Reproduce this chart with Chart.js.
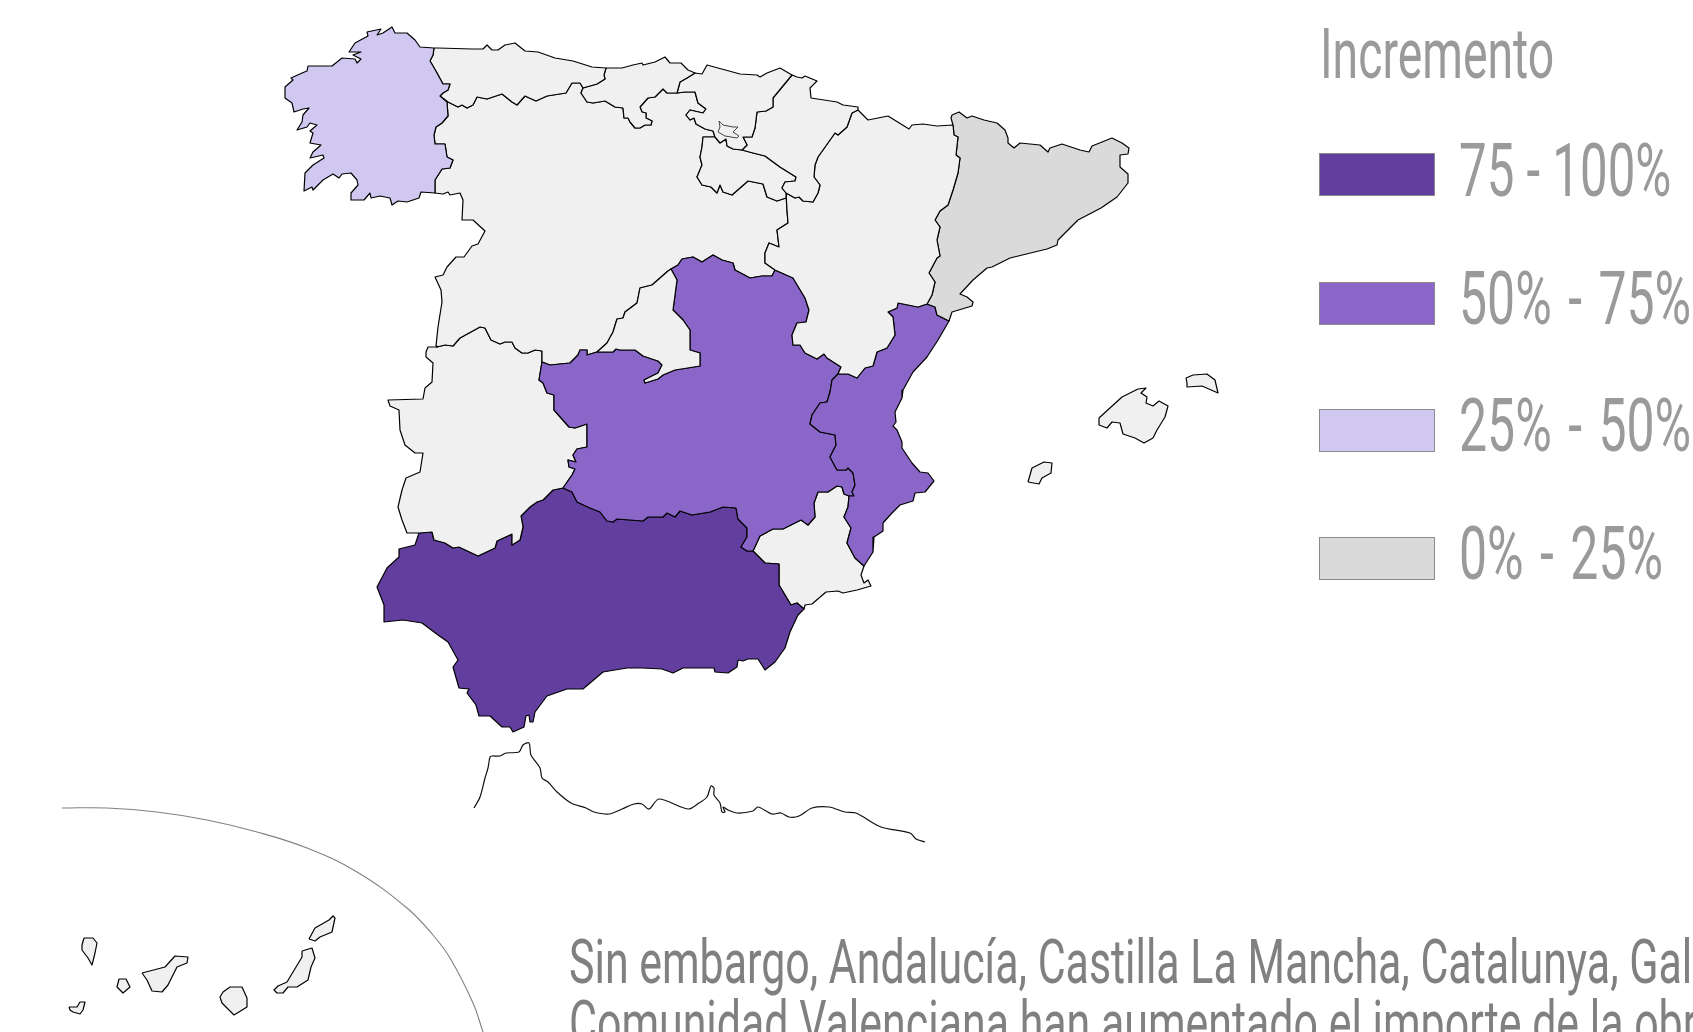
<!DOCTYPE html>
<html lang="es">
<head>
<meta charset="utf-8">
<title>Incremento por comunidad autónoma</title>
<script src="https://cdn.jsdelivr.net/npm/chart.js@4"></script>
<style>
html,body{margin:0;padding:0;width:1693px;height:1032px;overflow:hidden;background:#fff}
#wrap{position:relative;width:1693px;height:1032px;overflow:hidden}
canvas{position:absolute;left:0;top:0}
.t{position:absolute;white-space:nowrap;font-family:Roboto,sans-serif;font-weight:400;line-height:1;transform-origin:0 0}
.sw{position:absolute;box-sizing:border-box;left:1319px;width:116px;height:43px;border:1px solid #8a8a8a}
</style>
</head>
<body>
<div id="wrap"><canvas id="c" width="1693" height="1032"></canvas></div>
<script>
// Legend
const legendTitle = "Incremento";
const legendLabels = ["75 - 100%", "50% - 75%", "25% - 50%", "0% - 25%"];
const legendColors = ["#623e9e", "#8a66c9", "#d0c8f0", "#dadada"];
const noDataColor = "#f0f0f0";
const captionLines = [
  "Sin embargo, Andalucía, Castilla La Mancha, Catalunya, Galicia y",
  "Comunidad Valenciana han aumentado el importe de la obra"
];

// Boundary segments
const galAst=[[434,48],[433,55],[430,61],[433,66],[437,73],[443,84],[450,84],[448,90],[443,93],[440,96]];
const galCyl=[[440,96],[447,102],[448,116],[442,123],[436,127],[434,135],[435,144],[445,144],[447,157],[453,160],[450,168],[442,169],[435,180],[435,193]];
const galCoast=[[435,193],[421,192],[419,198],[407,202],[398,201],[392,205],[390,198],[380,196],[371,198],[370,193],[364,200],[351,200],[351,193],[358,185],[357,180],[351,173],[342,174],[339,178],[333,174],[323,180],[313,190],[312,187],[304,191],[305,173],[313,165],[324,158],[323,155],[310,158],[313,152],[321,145],[310,143],[313,133],[310,131],[317,125],[310,123],[307,127],[297,130],[302,122],[303,115],[309,108],[303,109],[294,112],[292,103],[285,98],[285,87],[293,80],[291,78],[302,73],[307,71],[308,66],[332,66],[342,58],[355,59],[357,63],[361,59],[353,55],[361,52],[349,52],[355,43],[368,36],[367,32],[381,29],[377,35],[383,33],[392,27],[395,33],[407,33],[415,40],[420,47],[434,48]];
const astCoast=[[434,48],[438,48],[472,49],[483,49],[487,45],[492,50],[498,50],[505,45],[515,43],[525,51],[538,52],[555,58],[573,61],[592,67],[606,68]];
const astCan=[[606,68],[604,75],[605,79],[597,84],[583,88]];
const astCyl=[[583,88],[580,83],[572,83],[566,93],[547,96],[536,101],[525,96],[517,105],[512,102],[502,94],[487,99],[477,97],[473,105],[467,108],[462,105],[458,107],[448,102],[440,96]];
const canCoast=[[606,68],[622,68],[633,65],[642,63],[643,65],[655,62],[665,57],[670,63],[681,63],[688,70],[695,73]];
const canPv=[[695,73],[687,78],[680,82],[677,93]];
const canCyl=[[677,93],[667,93],[663,89],[655,97],[648,98],[640,107],[642,112],[646,113],[646,118],[652,121],[651,125],[645,125],[640,128],[635,128],[630,122],[628,118],[624,118],[623,108],[615,107],[605,101],[593,103],[587,102],[581,93],[583,88]];
const pvCoast=[[695,73],[702,74],[707,65],[740,74],[757,75],[760,77],[767,73],[780,68],[792,75]];
const pvNav=[[792,75],[773,98],[773,107],[766,111],[757,112],[755,128],[752,137],[743,137],[747,145],[742,150]];
const pvRio=[[742,150],[733,149],[727,146],[726,139],[720,143],[715,137]];
const pvCyl=[[715,137],[713,131],[705,129],[696,124],[694,118],[690,120],[686,115],[690,110],[703,113],[706,109],[698,103],[695,92],[685,92],[677,93]];
const navNorth=[[792,75],[797,77],[802,78],[805,76],[817,81],[810,88],[811,98],[837,102],[843,105],[858,107],[858,110]];
const navAra=[[858,110],[852,113],[847,127],[838,135],[835,133],[818,157],[815,165],[814,177],[820,185],[818,193],[813,202],[803,201],[799,197],[795,198],[786,193]];
const navRio=[[742,150],[753,153],[765,156],[780,167],[796,177],[795,181],[785,182],[782,188],[786,193]];
const rioCyl=[[786,193],[786,198],[777,201],[767,197],[763,184],[748,181],[732,195],[723,192],[720,185],[717,193],[711,187],[702,185],[697,177],[702,165],[700,157],[702,147],[703,137],[715,137]];
const araNorth=[[858,110],[868,120],[888,116],[909,129],[912,125],[923,124],[937,126],[953,125]];
const araCat=[[953,125],[954,135],[958,137],[956,155],[960,158],[958,173],[953,190],[948,205],[940,211],[935,220],[940,227],[937,240],[940,256],[937,258],[929,273],[935,282],[932,295],[927,304]];
const araVal=[[927,304],[918,307],[898,303],[897,308],[888,312],[893,317],[895,335],[887,348],[877,352],[873,366],[865,368],[857,378],[848,374],[838,374]];
const araClm=[[838,374],[841,367],[827,358],[824,354],[817,359],[805,353],[800,345],[793,345],[792,335],[797,323],[806,322],[809,310],[805,298],[793,278],[775,270]];
const araCyl=[[775,270],[765,263],[765,253],[769,243],[779,247],[777,230],[788,223],[787,210],[786,193]];
const catCoast=[[953,125],[951,118],[952,115],[959,112],[967,118],[972,116],[984,120],[997,123],[1005,130],[1008,138],[1008,143],[1014,148],[1020,143],[1040,145],[1048,152],[1050,148],[1062,144],[1080,150],[1089,152],[1092,146],[1112,138],[1122,143],[1129,148],[1128,154],[1120,155],[1120,167],[1128,174],[1128,183],[1117,197],[1101,208],[1078,220],[1058,240],[1057,245],[1047,249],[1010,258],[992,267],[987,268],[973,280],[960,294],[967,297],[973,302],[972,306],[962,309],[952,312],[949,321]];
const catVal=[[927,304],[935,307],[937,315],[949,321]];
const valCoast=[[949,321],[938,340],[927,357],[913,372],[903,390],[902,398],[895,412],[896,422],[893,426],[897,430],[902,442],[902,448],[912,463],[920,472],[928,473],[934,481],[925,492],[915,493],[913,501],[900,505],[892,513],[883,523],[883,531],[874,537],[873,552],[864,566]];
const valMur=[[849,496],[848,507],[844,517],[851,528],[847,543],[855,558],[864,566]];
const clmVal=[[838,374],[832,380],[830,392],[827,402],[820,403],[812,415],[810,424],[820,432],[835,435],[836,445],[830,457],[837,470],[846,470],[848,468],[853,473],[855,485],[852,492],[854,496],[849,496]];
const clmCyl=[[775,270],[772,276],[762,276],[750,278],[735,270],[733,263],[722,260],[713,255],[702,262],[693,257],[682,259],[678,265],[671,269]];
const clmMad=[[671,269],[677,280],[673,310],[683,320],[690,330],[690,350],[700,353],[700,366],[675,370],[663,375],[658,379],[645,383],[644,380],[658,373],[662,365],[658,361],[643,356],[635,350],[620,350],[616,349],[613,352],[597,352]];
const madCyl=[[597,352],[607,343],[613,332],[617,319],[623,318],[625,312],[637,303],[640,288],[652,285],[668,271],[671,269]];
const clmCylSouth=[[597,352],[587,355],[587,350],[580,350],[578,355],[570,363],[560,364],[550,365],[542,362]];
const extClm=[[563,488],[572,475],[575,469],[569,467],[568,460],[576,462],[573,455],[577,449],[587,447],[587,424],[575,428],[569,427],[554,410],[554,395],[547,393],[543,383],[539,380],[542,362]];
const andClm=[[563,488],[572,492],[577,502],[590,508],[600,512],[607,521],[613,522],[617,519],[643,521],[648,517],[663,517],[667,513],[675,517],[680,511],[692,515],[710,512],[723,507],[736,508],[738,519],[747,528],[747,537],[741,547],[747,551],[753,551]];
const clmMur=[[753,551],[760,536],[773,529],[783,529],[801,520],[808,525],[815,517],[814,503],[818,492],[828,492],[837,486],[842,487],[844,494],[849,496]];
const extCyl=[[542,362],[542,351],[535,350],[528,353],[522,353],[515,348],[512,342],[505,342],[500,344],[491,340],[485,328],[480,327],[460,338],[453,346],[445,345],[437,347]];
const cylPort=[[435,193],[443,194],[448,192],[450,195],[460,193],[463,200],[462,220],[473,220],[485,231],[478,244],[472,246],[464,257],[456,257],[447,267],[443,275],[435,277],[441,290],[442,302],[438,327],[436,346],[437,347]];
const extWest=[[437,347],[428,347],[426,352],[426,357],[433,363],[432,382],[425,388],[423,399],[388,400],[390,406],[399,410],[400,430],[405,445],[415,453],[423,453],[420,472],[406,478],[402,490],[398,507],[402,520],[407,533],[419,533]];
const extAnd=[[419,533],[432,532],[434,540],[445,543],[453,548],[459,547],[478,556],[495,548],[497,541],[512,534],[512,545],[520,540],[523,527],[521,516],[530,507],[537,502],[543,500],[553,490],[563,488]];
const andMur=[[753,551],[765,563],[779,564],[779,585],[791,605],[797,603],[804,609]];
const andCoast=[[804,609],[798,615],[790,632],[785,648],[775,662],[765,670],[758,659],[748,659],[743,661],[738,660],[737,667],[728,673],[715,672],[714,668],[683,668],[673,673],[662,669],[643,668],[627,668],[603,672],[583,689],[567,689],[547,696],[535,712],[533,722],[530,722],[529,715],[526,716],[524,727],[513,732],[510,727],[502,727],[490,716],[479,716],[476,705],[467,693],[469,689],[459,688],[453,667],[458,660],[448,642],[438,635],[422,623],[403,620],[384,622],[384,605],[377,587],[387,568],[399,557],[399,549],[415,545],[419,533]];
const murCoast=[[864,566],[861,575],[864,583],[868,580],[871,586],[857,590],[843,593],[838,591],[826,592],[812,604],[805,605],[804,609]];

// Separate outlines
const trevino=[[719,121],[723,125],[733,127],[738,127],[733,132],[739,136],[737,138],[725,136],[718,132],[720,127]];
const mallorca=[[1099,418],[1122,397],[1138,389],[1146,388],[1141,393],[1147,397],[1146,403],[1153,406],[1159,401],[1168,406],[1165,417],[1157,430],[1153,438],[1144,443],[1135,438],[1123,434],[1120,423],[1112,422],[1107,428],[1099,425]];
const menorca=[[1186,378],[1193,375],[1207,374],[1215,380],[1218,393],[1202,386],[1187,387],[1187,383]];
const ibiza=[[1028,482],[1032,468],[1044,462],[1052,463],[1051,473],[1042,478],[1039,484]];
const laPalma=[[84,938],[93,938],[97,943],[95,953],[92,965],[88,958],[82,950],[82,945]];
const elHierro=[[69,1007],[77,1007],[80,1002],[85,1002],[83,1010],[80,1014],[73,1012],[70,1010]];
const laGomera=[[119,979],[126,979],[130,987],[123,993],[117,987]];
const tenerife=[[142,973],[165,967],[175,956],[188,957],[187,963],[177,967],[172,977],[168,985],[162,992],[152,991],[147,980]];
const granCanaria=[[230,987],[242,987],[247,998],[247,1007],[234,1015],[222,1003],[220,997],[223,992]];
const fuerteventura=[[302,951],[312,948],[315,958],[311,967],[308,980],[297,987],[288,987],[283,993],[277,993],[274,990],[278,986],[287,982],[302,957]];
const lanzarote=[[309,939],[315,928],[329,920],[333,916],[335,918],[332,932],[320,937],[315,941]];
const africaCoast=[[474,808],[480,797],[485,778],[488,768],[490,757],[492,756],[500,756],[506,753],[519,752],[523,745],[529,743],[531,755],[540,768],[542,778],[548,782],[557,792],[571,803],[586,808],[594,812],[609,814],[622,809],[634,804],[642,804],[649,809],[659,799],[688,809],[699,803],[707,797],[711,786],[714,788],[714,795],[720,803],[722,812],[725,812],[723,807],[728,810],[737,813],[753,811],[758,807],[772,814],[781,813],[789,817],[799,816],[812,808],[829,807],[845,812],[856,813],[881,827],[910,833],[916,839],[925,842]];
const canaryFrame=[[62,808],[107,808],[157,812],[207,820],[257,832],[307,848],[357,872],[407,908],[433,935],[450,958],[473,1003],[483,1032]];

// Which band each territory falls in (index into legendColors; -1 = no band)
const band={Andalucia:0,CastillaLaMancha:1,Valencia:1,Galicia:2,Catalunya:3,other:-1};

const rev=a=>a.slice().reverse();
const ring=(...parts)=>parts.flat();
const regions=[
 ["Galicia",ring(galAst,galCyl,galCoast),band.Galicia],
 ["Asturias",ring(astCoast,astCan,astCyl,rev(galAst)),band.other],
 ["Cantabria",ring(canCoast,canPv,canCyl,rev(astCan)),band.other],
 ["País Vasco",ring(pvCoast,pvNav,pvRio,pvCyl,rev(canPv)),band.other],
 ["Navarra",ring(navNorth,navAra,rev(navRio),rev(pvNav)),band.other],
 ["La Rioja",ring(navRio,rioCyl,rev(pvRio)),band.other],
 ["Aragón",ring(araNorth,araCat,araVal,araClm,araCyl,rev(navAra)),band.other],
 ["Catalunya",ring(catCoast,rev(catVal),rev(araCat)),band.Catalunya],
 ["Comunidad Valenciana",ring(catVal,valCoast,rev(valMur),rev(clmVal),rev(araVal)),band.Valencia],
 ["Madrid",ring(clmMad,madCyl),band.other],
 ["Castilla La Mancha",ring(clmCyl,clmMad,clmCylSouth,rev(extClm),andClm,clmMur,rev(clmVal),araClm),band.CastillaLaMancha],
 ["Castilla y León",ring(galCyl,cylPort,rev(extCyl),rev(clmCylSouth),madCyl,rev(clmCyl),araCyl,rioCyl,pvCyl,canCyl,astCyl),band.other],
 ["Extremadura",ring(extWest,extAnd,extClm,extCyl),band.other],
 ["Andalucía",ring(andClm,andMur,andCoast,extAnd),band.Andalucia],
 ["Murcia",ring(clmMur,valMur,murCoast,rev(andMur)),band.other],
 ["Mallorca",mallorca,band.other],["Menorca",menorca,band.other],["Ibiza",ibiza,band.other],
 ["La Palma",laPalma,band.other],["El Hierro",elHierro,band.other],["La Gomera",laGomera,band.other],
 ["Tenerife",tenerife,band.other],["Gran Canaria",granCanaria,band.other],
 ["Fuerteventura",fuerteventura,band.other],["Lanzarote",lanzarote,band.other]
];
const toPts=a=>a.map(p=>({x:p[0],y:p[1]}));
const datasets=regions.map(([label,pts,b])=>({
  label,data:toPts(pts.concat([pts[0]])),showLine:true,fill:'shape',order:1,
  backgroundColor:b<0?noDataColor:legendColors[b],
  borderColor:'#000',borderWidth:1.2,borderJoinStyle:'round',pointRadius:0,pointHoverRadius:0,tension:0
}));
datasets.push({label:"Condado de Treviño",data:toPts(trevino.concat([trevino[0]])),showLine:true,fill:'shape',order:0,
  backgroundColor:noDataColor,borderColor:'#444',borderWidth:1,pointRadius:0,pointHoverRadius:0,tension:0});
datasets.push({label:"Costa de África",data:toPts(africaCoast),showLine:true,fill:false,order:0,
  borderColor:'#111',borderWidth:1.2,pointRadius:0,pointHoverRadius:0,tension:0.3});
datasets.push({label:"Marco de Canarias",data:toPts(canaryFrame),showLine:true,fill:false,order:0,
  borderColor:'#808080',borderWidth:1.1,pointRadius:0,pointHoverRadius:0,tension:0.4});

new Chart(document.getElementById('c'),{
  type:'scatter',
  data:{datasets},
  options:{
    responsive:false,animation:false,events:[],
    layout:{padding:0},
    plugins:{legend:{display:false},tooltip:{enabled:false},title:{display:false}},
    scales:{
      x:{type:'linear',min:0,max:1693,display:false},
      y:{type:'linear',min:0,max:1032,reverse:true,display:false}
    }
  }
});

// Legend and caption as real text
const wrap=document.getElementById('wrap');
function addText(txt,left,baseline,size,scaleX,color,wordSpacing){
  const s=document.createElement('div');s.className='t';s.textContent=txt;
  s.style.left=left+'px';s.style.top=(baseline-size*0.8415)+'px';
  s.style.fontSize=size+'px';s.style.color=color;s.style.transform='scaleX('+scaleX+')';
  if(wordSpacing)s.style.wordSpacing=wordSpacing+'px';
  wrap.appendChild(s);
}
addText(legendTitle,1320,78,70,0.662,'#9a9a9a');
const swatchTops=[153,282,409,537],labelBaselines=[196,324,451,579];
legendLabels.forEach((l,i)=>{
  const r=document.createElement('div');r.className='sw';r.style.top=swatchTops[i]+'px';r.style.background=legendColors[i];
  wrap.appendChild(r);
  addText(l,1459,labelBaselines[i],74,i===0?0.665:0.675,'#9a9a9a',i===0?0:6);
});
addText(captionLines[0],569,983,62,0.692,'#808080');
addText(captionLines[1],569,1044,62,0.692,'#808080');
</script>
</body>
</html>
